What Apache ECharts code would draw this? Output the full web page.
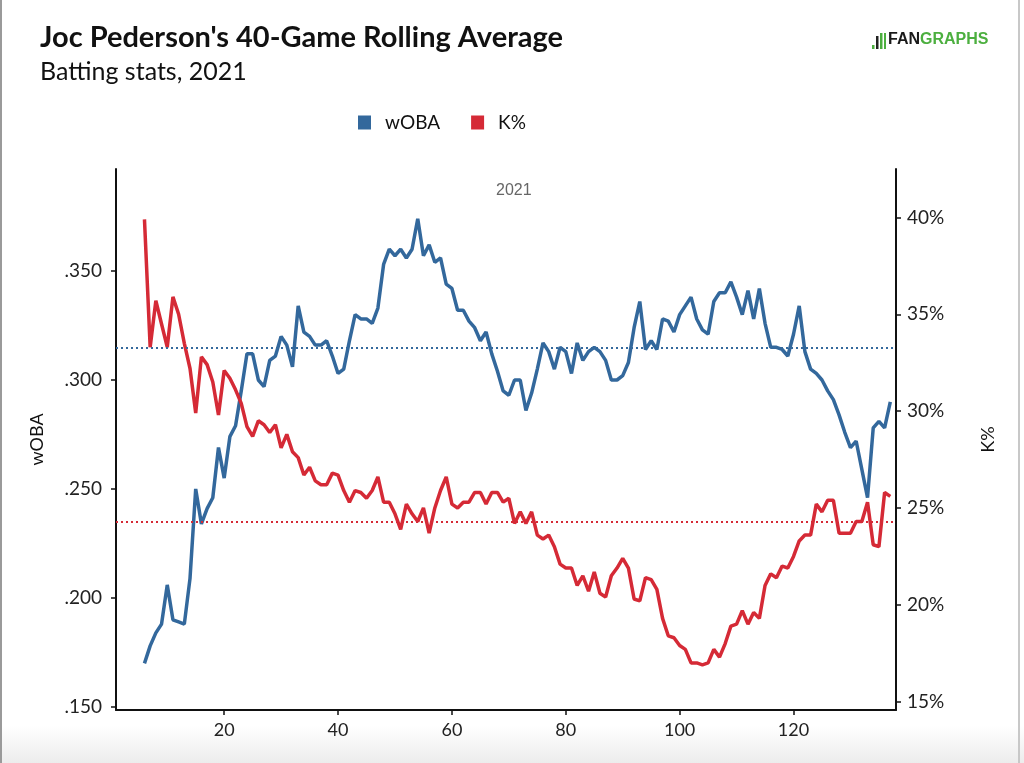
<!DOCTYPE html>
<html>
<head>
<meta charset="utf-8">
<script src="https://cdn.jsdelivr.net/npm/echarts@6/dist/echarts.min.js"></script>
<style>
html,body{margin:0;padding:0;background:#fff;}
#chart{width:1024px;height:763px;}
</style>
</head>
<body>
<div id="chart"></div>
<script>
const games = [6,7,8,9,10,11,12,13,14,15,16,17,18,19,20,21,22,23,24,25,26,27,28,29,30,31,32,33,34,35,36,37,38,39,40,41,42,43,44,45,46,47,48,49,50,51,52,53,54,55,56,57,58,59,60,61,62,63,64,65,66,67,68,69,70,71,72,73,74,75,76,77,78,79,80,81,82,83,84,85,86,87,88,89,90,91,92,93,94,95,96,97,98,99,100,101,102,103,104,105,106,107,108,109,110,111,112,113,114,115,116,117,118,119,120,121,122,123,124,125,126,127,128,129,130,131,132,133,134,135,136,137];
const woba = [.170,.178,.184,.188,.206,.190,.189,.188,.209,.250,.234,.241,.246,.269,.255,.274,.279,.295,.312,.312,.300,.297,.309,.311,.320,.316,.306,.334,.322,.320,.316,.316,.318,.311,.303,.305,.318,.330,.328,.328,.326,.333,.353,.360,.357,.360,.356,.360,.374,.357,.362,.354,.356,.344,.342,.332,.332,.327,.324,.318,.322,.312,.304,.295,.293,.300,.300,.286,.294,.305,.317,.313,.305,.315,.313,.303,.317,.309,.313,.315,.313,.309,.300,.300,.302,.308,.324,.336,.314,.318,.314,.328,.327,.322,.330,.334,.338,.328,.323,.321,.336,.340,.340,.345,.338,.330,.341,.328,.342,.326,.315,.315,.314,.311,.321,.334,.313,.305,.303,.300,.295,.291,.284,.276,.269,.272,.259,.246,.278,.281,.278,.290];
const kPct = [39.9,33.3,35.7,34.5,33.3,35.9,35.0,33.5,32.2,29.9,32.8,32.4,31.5,29.8,32.1,31.7,31.1,30.4,29.2,28.7,29.5,29.3,28.9,29.3,28.1,28.8,27.9,27.6,26.7,27.1,26.4,26.2,26.2,26.8,26.7,25.9,25.3,25.9,25.8,25.5,25.9,26.6,25.3,25.3,24.7,23.9,25.2,24.7,24.3,25.0,23.7,25.0,25.9,26.6,25.2,25.0,25.3,25.3,25.8,25.8,25.2,25.8,25.8,25.3,25.5,24.2,24.8,24.2,24.8,23.6,23.4,23.6,23.0,22.1,21.9,21.9,21.0,21.5,20.7,21.7,20.6,20.4,21.5,21.9,22.4,21.9,20.3,20.2,21.4,21.3,20.8,19.3,18.4,18.3,17.9,17.7,17.0,17.0,16.9,17.0,17.7,17.3,18.0,18.9,19.0,19.7,19.0,19.6,19.3,21.0,21.6,21.4,22.0,21.9,22.5,23.3,23.6,23.6,25.2,24.8,25.4,25.4,23.7,23.7,23.7,24.3,24.3,25.3,23.1,23.0,25.8,25.6];
const wobaAvg = 0.315;
const kAvg = 24.3;
const xTicks = [20,40,60,80,100,120];
const wobaTicks = [0.15,0.2,0.25,0.3,0.35];
const kTicks = [15,20,25,30,35,40];

const BLUE = '#33689c';
const RED = '#d52a36';
const FONT = 'Lato, "Liberation Sans", sans-serif';

const chart = echarts.init(document.getElementById('chart'), null, {renderer:'canvas'});
const option = {
  backgroundColor: '#ffffff',
  animation: false,
  textStyle: {fontFamily: FONT},
  title: [
    {text: "Joc Pederson's 40-Game Rolling Average", left: 35, top: 18,
     textStyle: {fontFamily: FONT, fontWeight: 'bold', fontSize: 29, color: '#111'}},
    {text: 'Batting stats, 2021', left: 35, top: 54,
     textStyle: {fontFamily: FONT, fontWeight: 'normal', fontSize: 25, color: '#111'}}
  ],
  legend: {
    left: 353, top: 108,
    itemWidth: 13, itemHeight: 14, itemGap: 31,
    icon: 'rect',
    textStyle: {fontFamily: FONT, fontSize: 19, color: '#111', padding: [0, 0, 0, 9]},
    data: ['wOBA', 'K%']
  },
  grid: {left: 116, right: 128, top: 169, bottom: 53, containLabel: false},
  xAxis: {
    type: 'value', min: 1, max: 138,
    splitLine: {show: false},
    axisLine: {lineStyle: {color: '#111', width: 2}},
    axisTick: {length: 5, lineStyle: {color: '#111', width: 1.5}, customValues: xTicks},
    axisLabel: {customValues: xTicks, fontSize: 18, color: '#222', margin: 11, fontFamily: FONT}
  },
  yAxis: [
    {
      type: 'value', min: 0.1486, max: 0.3968, position: 'left',
      name: 'wOBA', nameLocation: 'middle', nameGap: 70, nameRotate: 90,
      nameTextStyle: {fontSize: 18, color: '#111', fontFamily: FONT},
      splitLine: {show: false},
      axisLine: {show: true, lineStyle: {color: '#111', width: 2}},
      axisTick: {show: true, length: 5, lineStyle: {color: '#111', width: 1.5}, customValues: wobaTicks},
      axisLabel: {customValues: wobaTicks, fontSize: 19, color: '#222', margin: 14, fontFamily: FONT,
        formatter: v => v.toFixed(3).replace(/^0/, '')}
    },
    {
      type: 'value', min: 14.57, max: 42.5, position: 'right',
      name: 'K%', nameLocation: 'middle', nameGap: 83, nameRotate: 90,
      nameTextStyle: {fontSize: 18, color: '#111', fontFamily: FONT},
      splitLine: {show: false},
      axisLine: {show: true, lineStyle: {color: '#111', width: 2}},
      axisTick: {show: true, length: 5, lineStyle: {color: '#111', width: 1.5}, customValues: kTicks},
      axisLabel: {customValues: kTicks, fontSize: 19, color: '#222', margin: 11, fontFamily: FONT,
        formatter: v => v + '%'}
    }
  ],
  series: [
    {
      name: 'wOBA', type: 'line', yAxisIndex: 0,
      data: games.map((g, i) => [g, woba[i]]),
      showSymbol: false, symbol: 'none',
      lineStyle: {color: BLUE, width: 3.5}, itemStyle: {color: BLUE},
      markLine: {silent: true, symbol: 'none', precision: 4, label: {show: false},
        lineStyle: {color: BLUE, type: [2, 3], width: 2},
        data: [{yAxis: wobaAvg}]}
    },
    {
      name: 'K%', type: 'line', yAxisIndex: 1,
      data: games.map((g, i) => [g, kPct[i]]),
      showSymbol: false, symbol: 'none',
      lineStyle: {color: RED, width: 3.5}, itemStyle: {color: RED},
      markLine: {silent: true, symbol: 'none', precision: 4, label: {show: false},
        lineStyle: {color: RED, type: [2, 3], width: 2},
        data: [{yAxis: kAvg}]}
    }
  ],
  graphic: [
    {type: 'rect', left: 0, top: 725, z: -10, silent: true,
     shape: {width: 1024, height: 38},
     style: {fill: new echarts.graphic.LinearGradient(0, 0, 0, 1, [{offset: 0, color: '#ffffff'}, {offset: 1, color: '#ececec'}])}},
    {type: 'rect', left: 0, top: 0, silent: true, shape: {width: 2, height: 763}, style: {fill: '#9a9a9a'}},
    {type: 'rect', left: 1018, top: 0, silent: true, shape: {width: 2, height: 763}, style: {fill: '#c8c8c8'}},
    {type: 'text', left: 496, top: 183, silent: true,
     style: {text: '2021', fontSize: 16, fill: '#666', fontFamily: '"Liberation Sans", Arial, sans-serif'}},
    {type: 'group', left: 872, top: 32, silent: true, children: [
      {type: 'rect', shape: {x: 0, y: 12, width: 2.5, height: 4}, style: {fill: '#4caf3f'}},
      {type: 'rect', shape: {x: 4, y: 3, width: 2.5, height: 13}, style: {fill: '#222'}},
      {type: 'rect', shape: {x: 8, y: 0, width: 2.5, height: 16}, style: {fill: '#4caf3f'}},
      {type: 'rect', shape: {x: 12, y: 0, width: 2, height: 16}, style: {fill: '#4caf3f'}},
      {type: 'text', x: 16, y: -1, style: {
        text: '{a|FAN}{b|GRAPHS}',
        rich: {
          a: {fontSize: 16, fontWeight: 'bold', fill: '#1a1a1a', fontFamily: '"Liberation Sans", Arial, sans-serif'},
          b: {fontSize: 16, fontWeight: 'bold', fill: '#4caf3f', fontFamily: '"Liberation Sans", Arial, sans-serif'}
        }}}
    ]}
  ]
};
chart.setOption(option);
</script>
</body>
</html>
